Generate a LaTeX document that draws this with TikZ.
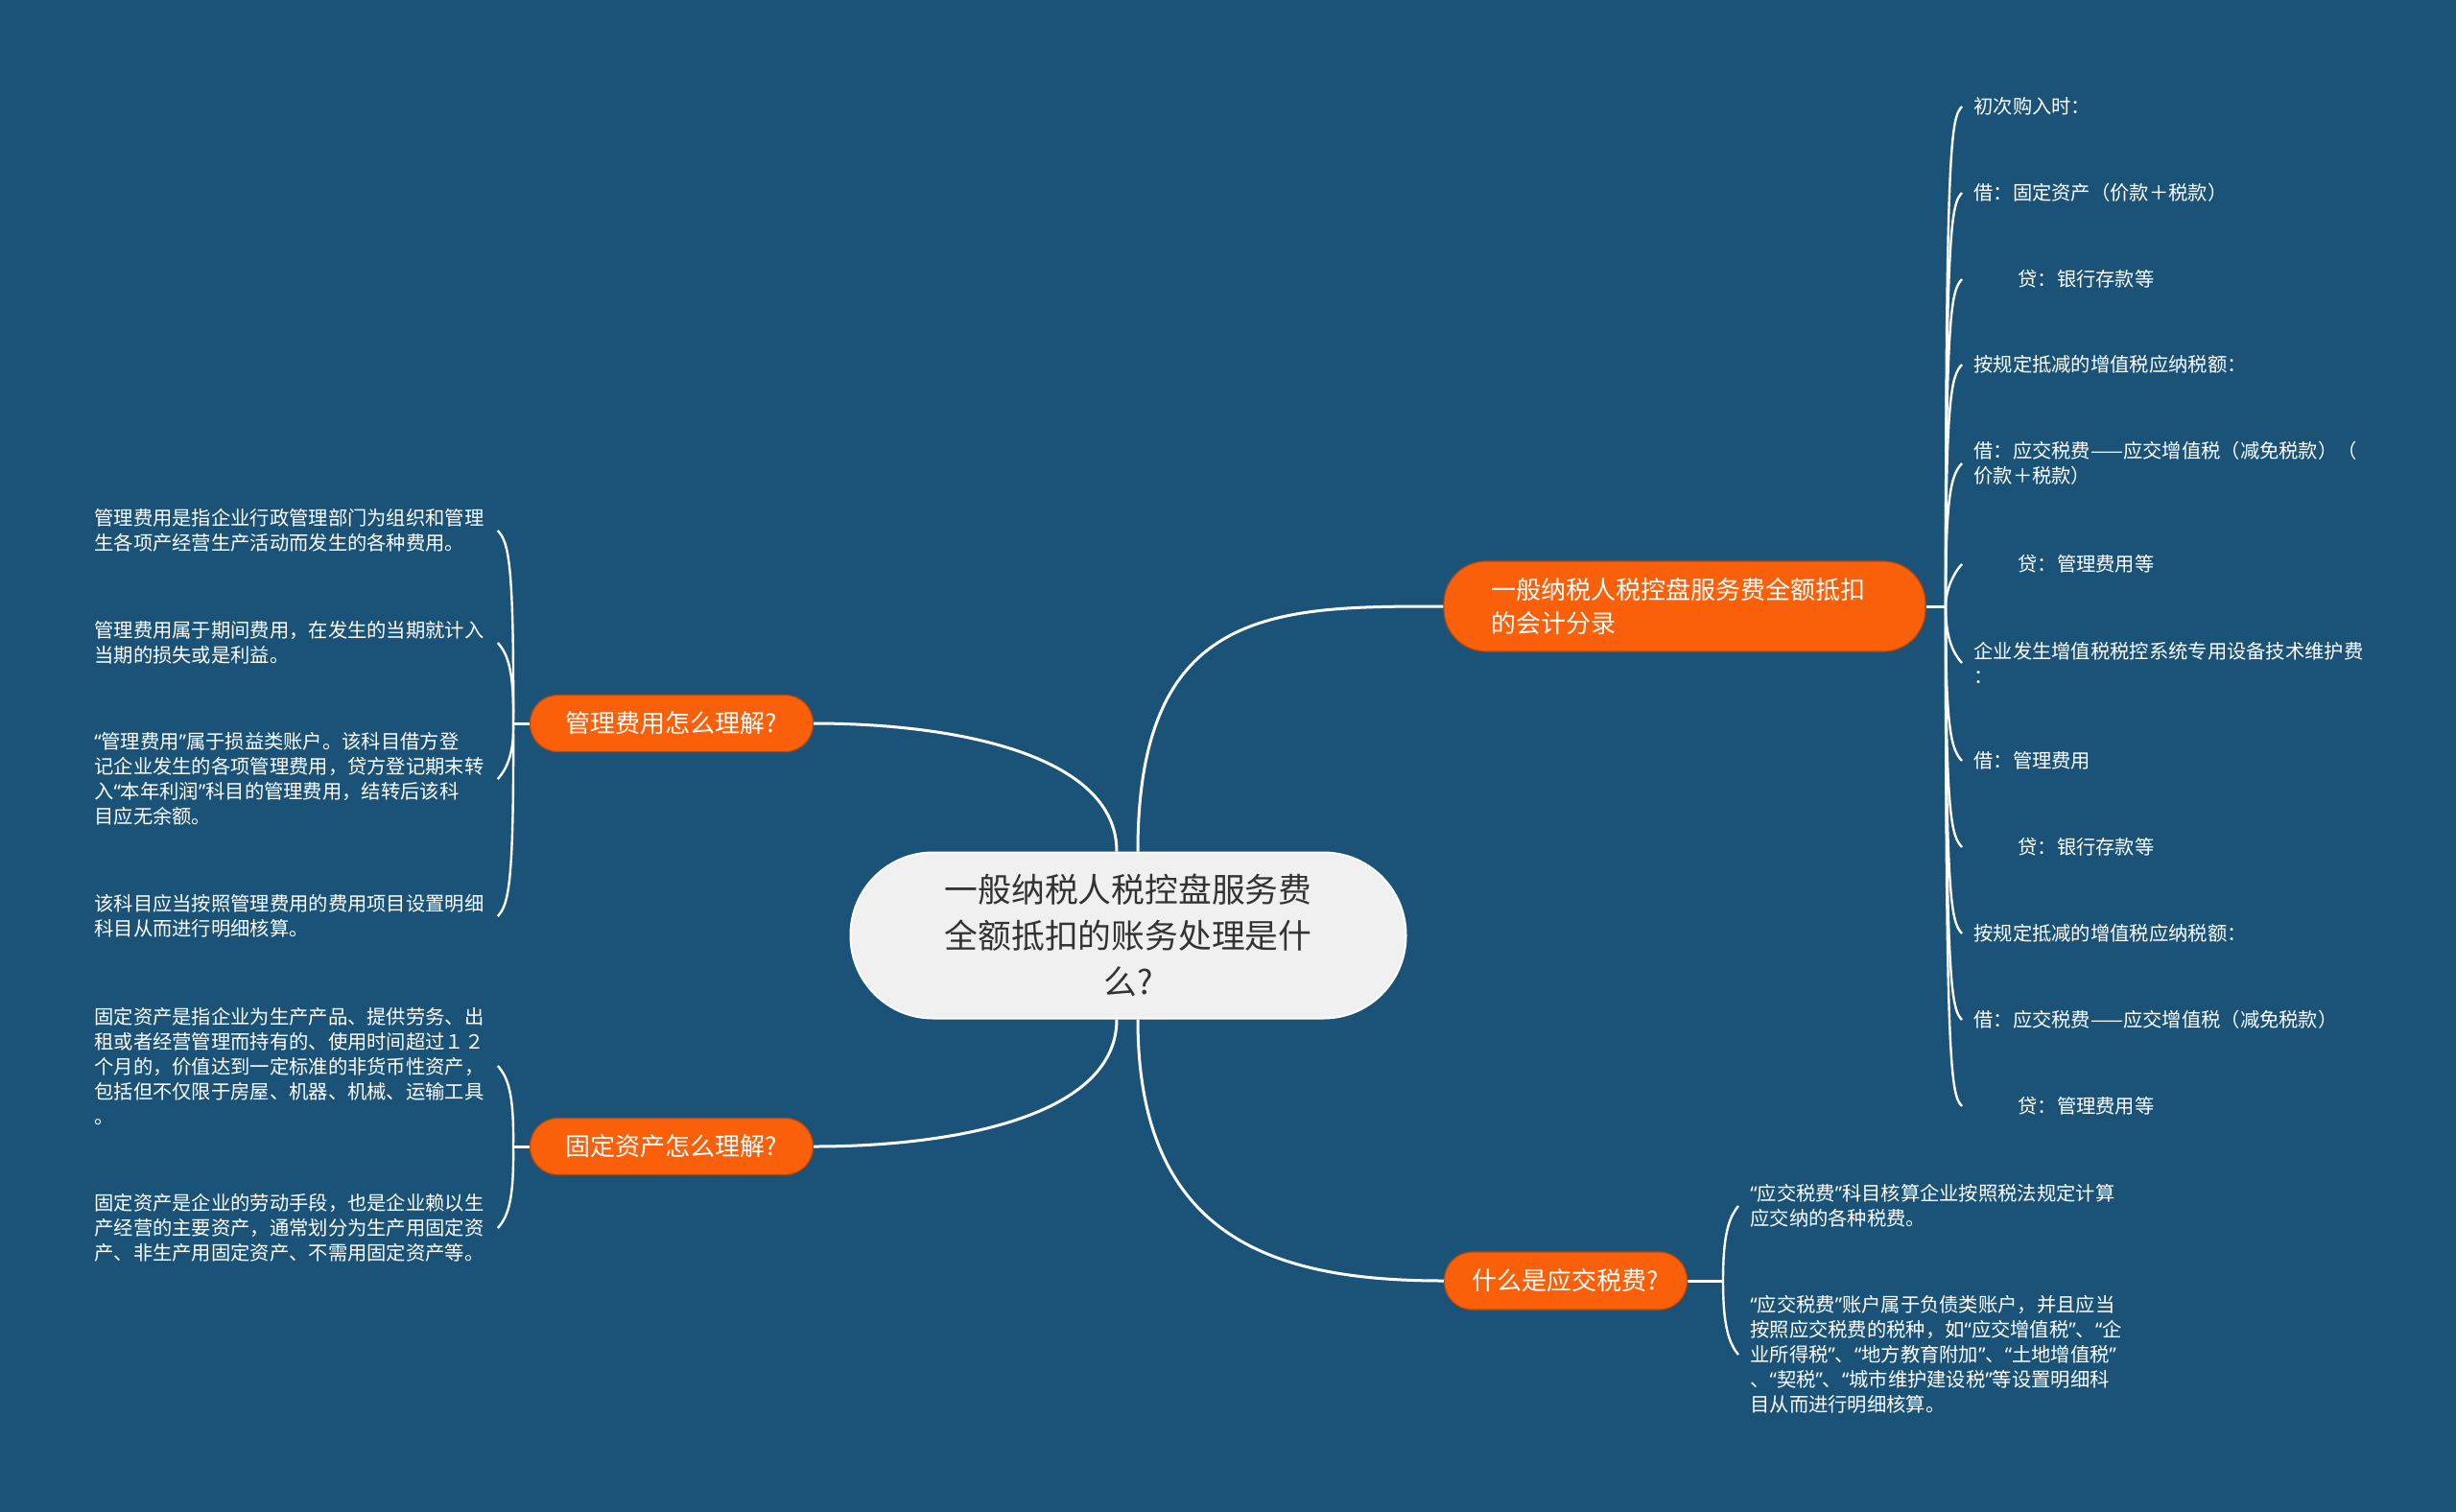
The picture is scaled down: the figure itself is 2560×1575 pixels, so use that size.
\documentclass[tikz,border=0pt]{standalone}
\usepackage{fontspec}
\setmainfont{Noto Sans CJK SC}
\newfontfamily\quotefont{Noto Sans}
\newcommand{\openq}{{\quotefont “}}
\newcommand{\closeq}{{\quotefont ”}}
\usetikzlibrary{calc}
\definecolor{bgblue}{RGB}{26,83,119}
\definecolor{topicorange}{RGB}{250,96,10}
\definecolor{rootgray}{RGB}{240,240,240}
\tikzset{
  rootbox/.style={fill=rootgray, draw=white, line width=1pt, rounded corners=43pt,
    minimum width=289.5pt, minimum height=86.5pt, align=center, text=black!80,
    font=\fontsize{17.4pt}{24pt}\selectfont},
  topic/.style={fill=topicorange, draw=topicorange!75!black, line width=0.6pt, text=white,
    rounded corners=14.5pt, minimum height=29.5pt, font=\fontsize{13pt}{17.5pt}\selectfont},
  leaf/.style={text=white, align=left, inner xsep=6pt, inner ysep=2pt,
    font=\fontsize{10.15pt}{13pt}\selectfont},
  leftleaf/.style={leaf, text width=206pt, inner xsep=4pt},
  link/.style={draw=white, line width=1.5pt},
  twig/.style={draw=white, line width=1.2pt},
}
\begin{document}
\begin{tikzpicture}[x=0.5pt, y=-0.5pt]
  \useasboundingbox (0,0) rectangle (2560,1575);
  \fill[bgblue] (-10,-10) rectangle (2570,1585);

  \node[rootbox] (root) at (1176,975) {一般纳税人税控盘服务费\\全额抵扣的账务处理是什\\么?};

  \node[topic, text width=202pt, align=left, inner xsep=24.5pt, minimum height=47pt,
    rounded corners=22pt] (entry) at (1756,632) {一般纳税人税控盘服务费全额抵扣\\的会计分录};
  \node[topic, minimum width=147.5pt] (mgmt) at (700,754) {管理费用怎么理解?};
  \node[topic, minimum width=147.5pt] (asset) at (700,1195) {固定资产怎么理解?};
  \node[topic, minimum width=126.5pt, minimum height=30pt] (tax) at (1632,1335) {什么是应交税费?};

  \draw[link] ([xshift=-6pt]root.north) .. controls +(0,-100) and +(150,0) .. (mgmt.east);
  \draw[link] ([xshift=-6pt]root.south) .. controls +(0,100) and +(150,0) .. (asset.east);
  \draw[link] ([xshift=5pt]root.north) .. controls +(0,-256) and +(-175,0) .. (entry.west);
  \draw[link] ([xshift=5pt]root.south) .. controls +(0,230) and +(-175,0) .. (tax.west);

  \node[leaf, anchor=west] (e1) at (2045,111) {初次购入时：};
  \node[leaf, anchor=west] (e2) at (2045,201) {借：固定资产（价款＋税款）};
  \node[leaf, anchor=west] (e3) at (2045,291) {\hspace*{23pt}贷：银行存款等};
  \node[leaf, anchor=west] (e4) at (2045,380) {按规定抵减的增值税应纳税额：};
  \node[leaf, anchor=west] (e5) at (2045,483) {借：应交税费——应交增值税（减免税款）（\\价款＋税款）};
  \node[leaf, anchor=west] (e6) at (2045,588) {\hspace*{23pt}贷：管理费用等};
  \node[leaf, anchor=west] (e7) at (2045,691) {企业发生增值税税控系统专用设备技术维护费\\：};
  \node[leaf, anchor=west] (e8) at (2045,793) {借：管理费用};
  \node[leaf, anchor=west] (e9) at (2045,883) {\hspace*{23pt}贷：银行存款等};
  \node[leaf, anchor=west] (e10) at (2045,973) {按规定抵减的增值税应纳税额：};
  \node[leaf, anchor=west] (e11) at (2045,1063) {借：应交税费——应交增值税（减免税款）};
  \node[leaf, anchor=west] (e12) at (2045,1153) {\hspace*{23pt}贷：管理费用等};

  \coordinate (s1) at (2028,632);
  \draw[link] (entry.east) -- (s1);
  \foreach \l in {e1,e2,e3,e4,e5,e6}
    \draw[twig] (s1) .. controls ($(\l.west)+(-17,30)$) and ($(\l.west)+(-11,12)$) .. (\l.west);
  \foreach \l in {e7,e8,e9,e10,e11,e12}
    \draw[twig] (s1) .. controls ($(\l.west)+(-17,-30)$) and ($(\l.west)+(-11,-12)$) .. (\l.west);

  \node[leftleaf, anchor=west] (m1) at (90,553) {管理费用是指企业行政管理部门为组织和管理\\生各项产经营生产活动而发生的各种费用。};
  \node[leftleaf, anchor=west] (m2) at (90,670) {管理费用属于期间费用，在发生的当期就计入\\当期的损失或是利益。};
  \node[leftleaf, anchor=west] (m3) at (90,812) {\openq 管理费用\closeq 属于损益类账户。该科目借方登\\记企业发生的各项管理费用，贷方登记期末转\\入\openq 本年利润\closeq 科目的管理费用，结转后该科\\目应无余额。};
  \node[leftleaf, anchor=west] (m4) at (90,955) {该科目应当按照管理费用的费用项目设置明细\\科目从而进行明细核算。};

  \coordinate (s2) at (535,754);
  \draw[link] (mgmt.west) -- (s2);
  \foreach \l in {m1,m2}
    \draw[twig] (s2) .. controls ($(\l.east)+(17,30)$) and ($(\l.east)+(11,12)$) .. (\l.east);
  \foreach \l in {m3,m4}
    \draw[twig] (s2) .. controls ($(\l.east)+(17,-30)$) and ($(\l.east)+(11,-12)$) .. (\l.east);

  \node[leftleaf, anchor=west] (a1) at (90,1111) {固定资产是指企业为生产产品、提供劳务、出\\租或者经营管理而持有的、使用时间超过１２\\个月的，价值达到一定标准的非货币性资产，\\包括但不仅限于房屋、机器、机械、运输工具\\。};
  \node[leftleaf, anchor=west] (a2) at (90,1280) {固定资产是企业的劳动手段，也是企业赖以生\\产经营的主要资产，通常划分为生产用固定资\\产、非生产用固定资产、不需用固定资产等。};

  \coordinate (s3) at (535,1195);
  \draw[link] (asset.west) -- (s3);
  \draw[twig] (s3) .. controls ($(a1.east)+(17,30)$) and ($(a1.east)+(11,12)$) .. (a1.east);
  \draw[twig] (s3) .. controls ($(a2.east)+(17,-30)$) and ($(a2.east)+(11,-12)$) .. (a2.east);

  \node[leaf, anchor=west] (t1) at (1812,1257) {\openq 应交税费\closeq 科目核算企业按照税法规定计算\\应交纳的各种税费。};
  \node[leaf, anchor=west] (t2) at (1812,1412) {\openq 应交税费\closeq 账户属于负债类账户，并且应当\\按照应交税费的税种，如\openq 应交增值税\closeq 、\openq 企\\业所得税\closeq 、\openq 地方教育附加\closeq 、\openq 土地增值税\closeq \\、\openq 契税\closeq 、\openq 城市维护建设税\closeq 等设置明细科\\目从而进行明细核算。};

  \coordinate (s4) at (1796,1335);
  \draw[link] (tax.east) -- (s4);
  \draw[twig] (s4) .. controls ($(t1.west)+(-16,30)$) and ($(t1.west)+(-10,12)$) .. (t1.west);
  \draw[twig] (s4) .. controls ($(t2.west)+(-16,-30)$) and ($(t2.west)+(-10,-12)$) .. (t2.west);
\end{tikzpicture}
\end{document}
